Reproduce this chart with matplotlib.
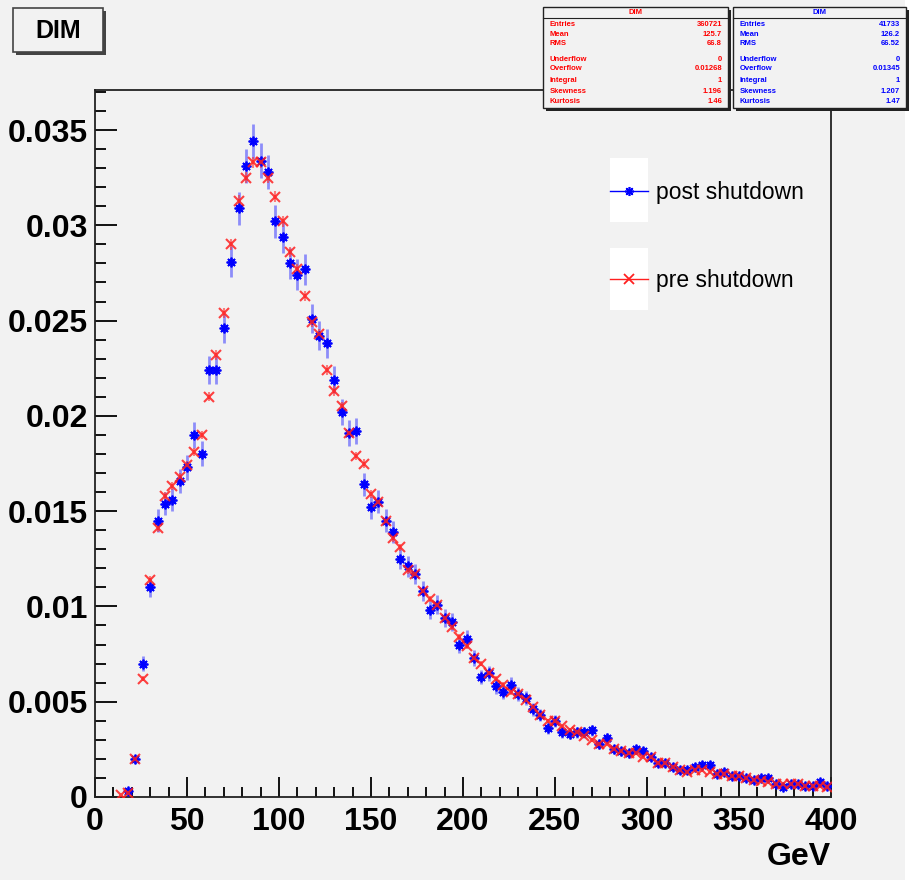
import numpy as np
import matplotlib.pyplot as plt
from matplotlib.patches import Rectangle
from matplotlib.lines import Line2D
from matplotlib.ticker import MultipleLocator, FuncFormatter

plt.rcParams['font.family'] = ['Liberation Sans', 'DejaVu Sans']

# bin centres, GeV (4 GeV bins)
bin_centers = np.arange(14, 399, 4)

# normalised bin contents
pre_values = [
    0.0001, 0.0002, 0.0020, 0.0062, 0.0114, 0.0141, 0.0158, 0.0163, 0.0168, 0.0174,
    0.0181, 0.0190, 0.0210, 0.0232, 0.0254, 0.0290, 0.0313, 0.0325, 0.0333, 0.0333,
    0.0325, 0.0315, 0.0302, 0.0286, 0.0277, 0.0263, 0.0249, 0.0243, 0.0224, 0.0213,
    0.0205, 0.0191, 0.0179, 0.0175, 0.0159, 0.0155, 0.0145, 0.0136, 0.0131, 0.0119,
    0.0117, 0.0108, 0.0104, 0.0101, 0.0094, 0.0089, 0.0084, 0.0079, 0.0073, 0.0070,
    0.0065, 0.0062, 0.0059, 0.0055, 0.0054, 0.0051, 0.0047, 0.0043, 0.0040, 0.0040,
    0.0037, 0.0035, 0.0034, 0.0032, 0.0030, 0.0028, 0.0028, 0.0025, 0.0024, 0.0023,
    0.0023, 0.0021, 0.0021, 0.0018, 0.0018, 0.0016, 0.0014, 0.0013, 0.0014, 0.0014,
    0.0013, 0.0012, 0.0012, 0.0011, 0.0011, 0.0010, 0.0009, 0.00085, 0.0008, 0.0007,
    0.0007, 0.0007, 0.0007, 0.0006, 0.0006, 0.0006, 0.00055,
]
post_values = [
    np.nan, 0.0003, 0.0020, 0.0070, 0.0110, 0.0145, 0.0154, 0.0156, 0.0166, 0.0173,
    0.0190, 0.0180, 0.0224, 0.0224, 0.0246, 0.0281, 0.0309, 0.0331, 0.0344, 0.0334,
    0.0328, 0.0302, 0.0294, 0.0280, 0.0274, 0.0277, 0.0251, 0.0242, 0.0238, 0.0219,
    0.0202, 0.0191, 0.0192, 0.0164, 0.0152, 0.0155, 0.0145, 0.0139, 0.0125, 0.0121,
    0.0117, 0.0108, 0.0098, 0.0101, 0.0094, 0.0092, 0.0080, 0.0083, 0.0073, 0.0063,
    0.0065, 0.0058, 0.0055, 0.0059, 0.0054, 0.0052, 0.0046, 0.0043, 0.0036, 0.0040,
    0.0034, 0.0033, 0.0034, 0.0034, 0.0035, 0.0028, 0.0031, 0.0025, 0.0024, 0.0023,
    0.0025, 0.0024, 0.0021, 0.0018, 0.0018, 0.0016, 0.0014, 0.0014, 0.0016, 0.0017,
    0.0017, 0.0012, 0.0013, 0.0011, 0.0011, 0.0010, 0.0009, 0.0010, 0.0010, 0.0007,
    0.00055, 0.0007, 0.0007, 0.0006, 0.0006, 0.0008, 0.0006,
]

# stats boxes
pre_stats_labels = ['Entries', 'Mean', 'RMS', 'Underflow', 'Overflow', 'Integral', 'Skewness', 'Kurtosis']
pre_stats_values = ['360721', '125.7', '66.8', '0', '0.01268', '1', '1.196', '1.46']
post_stats_labels = ['Entries', 'Mean', 'RMS', 'Underflow', 'Overflow', 'Integral', 'Skewness', 'Kurtosis']
post_stats_values = ['41733', '126.2', '66.52', '0', '0.01345', '1', '1.207', '1.47']
pre_entries = 360721
post_entries = 41733

W, H = 909, 883
BG = '#f2f2f2'


def fig_rect(x0, y0, x1, y1, **kw):
    """rectangle given in pixel coords (origin top left) -> figure fraction"""
    return Rectangle((x0 / W, 1 - y1 / H), (x1 - x0) / W, (y1 - y0) / H,
                     transform=fig.transFigure, **kw)


fig = plt.figure(figsize=(W / 100, H / 100), dpi=100, facecolor='white')
fig.patches.append(fig_rect(0, 0, 905, 880, facecolor=BG, edgecolor='none', zorder=-10))

ax = fig.add_axes([95 / W, 1 - 797 / H, (831 - 95) / W, (797 - 90) / H])
ax.set_facecolor(BG)

pre = np.array(pre_values)
post = np.array(post_values)
# poisson errors from the number of entries
pre_err = np.sqrt(pre / pre_entries)
post_err = np.sqrt(post / post_entries)

ax.errorbar(bin_centers, post, yerr=post_err, fmt='none', ecolor='#3b3bff',
            elinewidth=2, alpha=0.55, zorder=2)
ax.plot(bin_centers, post, ls='none', marker=(8, 2, 0), ms=7, mew=1.3,
        color='#0000ff', zorder=3)
ax.errorbar(bin_centers, pre, yerr=pre_err, fmt='none', ecolor='#ff3030',
            elinewidth=1.5, alpha=0.6, zorder=2)
ax.plot(bin_centers, pre, ls='none', marker='x', ms=7.5, mew=1.5,
        color='#ff2020', alpha=0.85, zorder=4)

ax.set_xlim(0, 400)
ax.set_ylim(0, 0.0371)
ax.xaxis.set_major_locator(MultipleLocator(50))
ax.xaxis.set_minor_locator(MultipleLocator(10))
ax.yaxis.set_major_locator(MultipleLocator(0.005))
ax.yaxis.set_minor_locator(MultipleLocator(0.001))
ax.yaxis.set_major_formatter(FuncFormatter(lambda v, p: '%g' % round(v, 4)))

ax.tick_params(axis='x', which='major', direction='in', length=14.5, width=1.3, pad=7)
ax.tick_params(axis='x', which='minor', direction='in', length=7.2, width=1.3)
ax.tick_params(axis='y', which='major', direction='in', length=16, width=1.3, pad=5)
ax.tick_params(axis='y', which='minor', direction='in', length=8, width=1.3)
ax.tick_params(labelsize=23)
for lab in ax.get_xticklabels() + ax.get_yticklabels():
    lab.set_fontweight('bold')
for sp in ax.spines.values():
    sp.set_linewidth(1.3)
    sp.set_color('#222222')

fig.text(831 / W, 1 - 857 / H, 'GeV', ha='right', va='center', fontsize=23, fontweight='bold')

# title box
fig.patches.append(fig_rect(16, 11, 106, 55, facecolor='#444444', edgecolor='none', zorder=1))
fig.patches.append(fig_rect(13, 8, 103, 52, facecolor=BG, edgecolor='#444444', lw=1.2, zorder=2))
fig.text(58 / W, 1 - 31 / H, 'DIM', ha='center', va='center', fontsize=18, fontweight='bold', zorder=3)

# legend
ax.add_patch(fig_rect(610, 158, 648, 222, facecolor='white', edgecolor='none', zorder=4))
ax.add_patch(fig_rect(610, 248, 648, 310, facecolor='white', edgecolor='none', zorder=4))
handles = [
    Line2D([], [], color='#0000ff', lw=1, marker=(8, 2, 0), ms=6.5, mew=1.2),
    Line2D([], [], color='#ff2020', lw=1, marker='x', ms=6.5, mew=1.3),
]
ax.legend(handles, ['post shutdown', 'pre shutdown'], frameon=False, fontsize=16.5,
          loc='upper left', bbox_to_anchor=(610 / W, 1 - 181 / H), bbox_transform=fig.transFigure,
          borderpad=0, borderaxespad=0, handlelength=1.65, handletextpad=0.35, labelspacing=2.82)

# stats boxes
boxes = [
    (543, 728, pre_stats_labels, pre_stats_values, '#ff0000'),
    (733, 906, post_stats_labels, post_stats_values, '#0000ff'),
]
line_y = [25, 34.3, 43.3, 59.3, 69, 80.7, 91.7, 101.7]
for x0, x1, labels, values, col in boxes:
    fig.patches.append(fig_rect(x0 + 3, 10, x1 + 3, 111, facecolor='#222222', edgecolor='none', zorder=5))
    fig.patches.append(fig_rect(x0, 7, x1, 108, facecolor=BG, edgecolor='#222222', lw=1, zorder=6))
    fig.lines.append(Line2D([x0 / W, x1 / W], [1 - 18 / H, 1 - 18 / H], transform=fig.transFigure,
                            color='#222222', lw=0.8, zorder=7))
    fig.text((x0 + x1) / 2 / W, 1 - 12.5 / H, 'DIM', ha='center', va='center', fontsize=5.5,
             color=col, fontweight='bold', zorder=8)
    for yy, lab, val in zip(line_y, labels, values):
        fig.text((x0 + 7) / W, 1 - yy / H, lab, ha='left', va='center', fontsize=5.5,
                 color=col, fontweight='bold', zorder=8)
        fig.text((x1 - 6) / W, 1 - yy / H, val, ha='right', va='center', fontsize=5.5,
                 color=col, fontweight='bold', zorder=8)

fig.savefig('out.png', dpi=100, facecolor=fig.get_facecolor())
